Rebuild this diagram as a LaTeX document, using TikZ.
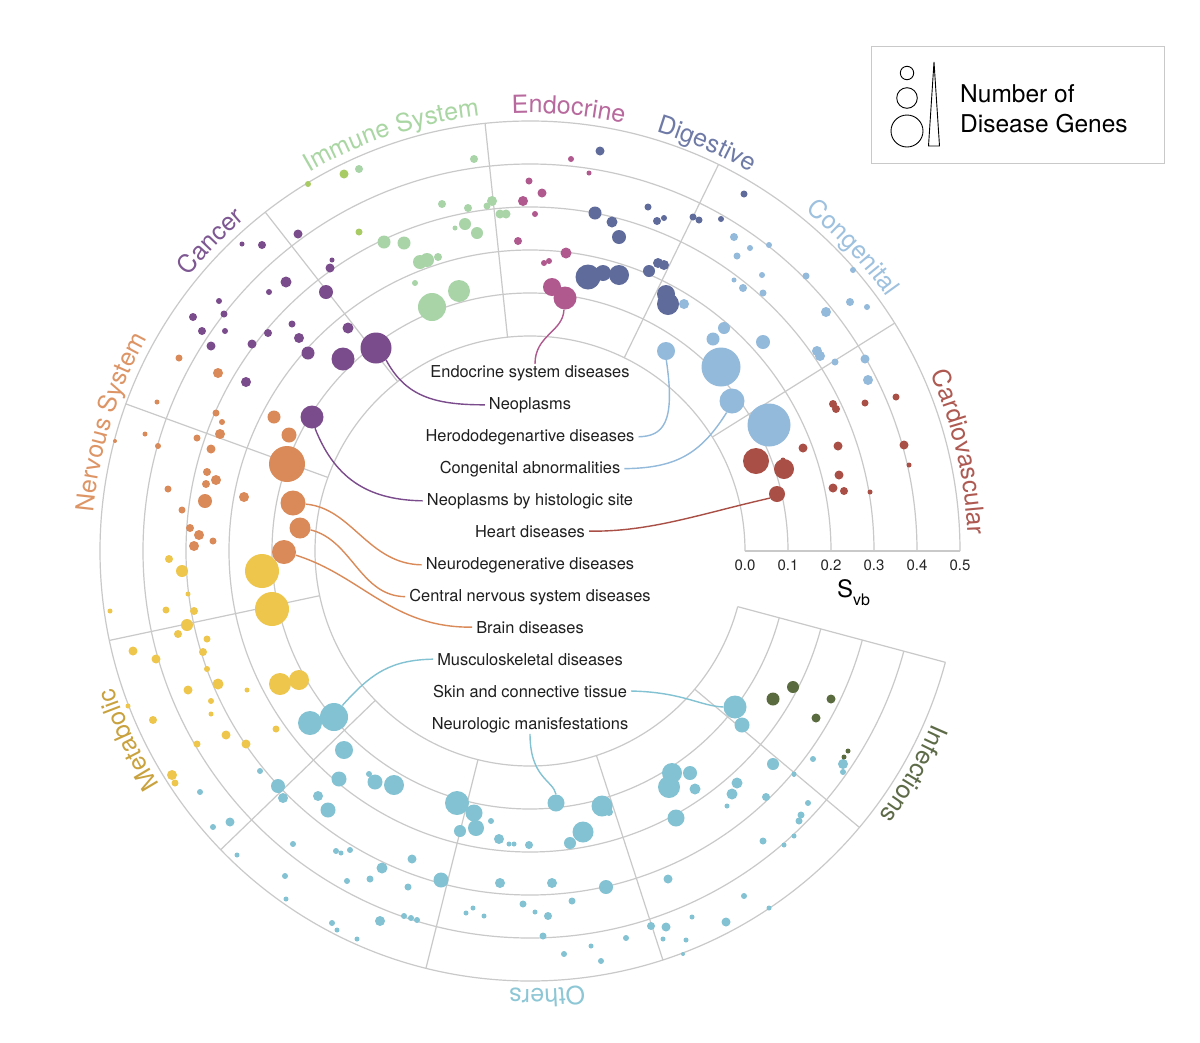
\documentclass[tikz,border=0pt]{standalone}
\usepackage{fontspec}
\setmainfont{TeX Gyre Heros}
\usetikzlibrary{decorations.text}
\definecolor{gridc}{HTML}{C9C9C9}
\definecolor{cardio}{HTML}{A94F45}
\definecolor{congen}{HTML}{93B9DB}
\definecolor{digest}{HTML}{5F6B9B}
\definecolor{endoc}{HTML}{B0598F}
\definecolor{immune}{HTML}{A8D4A8}
\definecolor{immuneB}{HTML}{A9CB63}
\definecolor{cancer}{HTML}{7B4C8C}
\definecolor{nerv}{HTML}{DA8A58}
\definecolor{metab}{HTML}{EEC64C}
\definecolor{others}{HTML}{82C2D2}
\definecolor{infect}{HTML}{5B6B40}
\definecolor{Lcardio}{HTML}{AE5A52}
\definecolor{Lcongen}{HTML}{9DC1DF}
\definecolor{Ldigest}{HTML}{6F7BA6}
\definecolor{Lendo}{HTML}{B8699E}
\definecolor{Limmune}{HTML}{A9D6A3}
\definecolor{Lcancer}{HTML}{7E5892}
\definecolor{Lnerv}{HTML}{DE9566}
\definecolor{Lmetab}{HTML}{C9A23E}
\definecolor{Lothers}{HTML}{8DC7D6}
\definecolor{Linfect}{HTML}{5E6B48}
\newcommand\dotc[4]{\fill[#1] (#2,#3) circle[radius=#4];}
\newcommand\catfont{\fontsize{25}{30}\selectfont}
\newcommand\catlabel[3]{\path[decorate,decoration={text along path,text align=center,text color=#2,text={|\catfont|#3}}] (c) ++(-#1-35:438) arc[start angle=-#1-35,end angle=-#1+35,radius=438];}
\tikzset{
  gridl/.style={draw=gridc,line width=1.2pt},
  conn/.style={line width=1.4pt},
  lbl/.style={font=\fontsize{16.4}{19}\selectfont,inner xsep=4pt,inner ysep=1pt,anchor=base,text=black!88},
  tick/.style={font=\fontsize{15}{18}\selectfont,inner sep=0pt,anchor=base,text=black!85},
  dotnode/.style={circle,inner sep=0pt}}
\begin{document}
\begin{tikzpicture}[x=1pt,y=-1pt]
\fill[white] (0,0) rectangle (1200,1042);
\useasboundingbox (0,0) rectangle (1200,1042);
\coordinate (c) at (530,551);
% grid
\foreach \r in {215,258,301,344,387,430}
  {\draw[gridl] (c) ++(0:\r) arc[start angle=0,end angle=-345,radius=\r];}
\foreach \a in {0,32,64,96,128,160,192,224,256,288,320,345}
  {\draw[gridl] (c) ++(-\a:215) -- ++(-\a:215);}
% Cardiovascular
\foreach \x/\y/\r in {756/461/13,784/469/10,803/448/4.5,833/404/4,836/409/4,865/403/3.5,896/397/3.5,838/446/4.5,904/445/4.5,909/465/2.5,839/475/4.5,833/488/4.5,844/491/4,870/492/2.5,783/460/2.5}
  {\dotc{cardio}{\x}{\y}{\r}}
% Congenital
\foreach \x/\y/\r in {734/237/4,750/248/3,769/245/3,737/256/3.5,762/275/3,734/280/2.5,743/288/4,763/293/3.5,806/276/3.5,853/270/3,850/302/4,867/307/3,826/312/5,817/351/5,820/356/5,835/362/3.5,865/359/4.5,868/380/5,684/304/5,724/328/6,713/339/6.5,763/342/7,721/367/19.5,769/425/21.5}
  {\dotc{congen}{\x}{\y}{\r}}
% Digestive
\foreach \x/\y/\r in {600/151/4.5,744/194/3.5,648/207/3.5,657/221/4,664/218/3,693/217/3.5,699/220/3.5,721/219/3,595/213/6.5,612/222/5.5,619/237/7,588/277/12.5,603/273/8,619/275/10,649/271/6,658/263/5,664/265/5,666/294/9,668/304/11}
  {\dotc{digest}{\x}{\y}{\r}}
% Endocrine
\foreach \x/\y/\r in {571/159/3,589/173/2.5,529/181/3.5,542/193/4.5,523/201/5,535/214/3,518/241/4,566/253/5.5,544/263/3,549/261/3,552/287/9}
  {\dotc{endoc}{\x}{\y}{\r}}
% Immune
\foreach \x/\y/\r in {359/169/4,474/159/4,442/204/4,468/208/4,465/224/6,455/228/2.5,477/233/6,492/201/5,487/206/3.5,500/214/4.5,506/214/4.5,384/242/6.5,404/243/6.5,420/262/7,427/260/7,438/257/4,415/283/3,432/307/14,459/291/11}
  {\dotc{immune}{\x}{\y}{\r}}
\foreach \x/\y/\r in {308/184/3,344/174/4.5,359/232/3.5}
  {\dotc{immuneB}{\x}{\y}{\r}}
% Cancer
\foreach \x/\y/\r in {298/234/4.5,262/245/4,242/244/2.5,332/260/2.5,330/268/4.5,286/282/5.5,269/292/3,326/292/7,219/301/3,193/317/4,224/314/3.5,202/331/4,225/331/3,292/324/3.5,268/333/4,299/338/5,348/328/5.5,211/346/4.5,252/344/4.5,308/353/6.5,343/359/11.5,246/382/5}
  {\dotc{cancer}{\x}{\y}{\r}}
% Nervous system
\foreach \x/\y/\r in {179/358/3.5,218/373/5,157/402/2.5,216/413/3.5,222/422/3,274/417/6.5,289/435/7.5,115/441/2,145/434/2.5,158/446/3,197/438/3.5,220/434/5,211/449/4.5,287/464/18,207/472/4,216/480/5,206/484/4,168/489/3.5,244/497/5,205/501/7,182/510/3.5,190/528/4,199/535/5,194/546/5,213/541/3.5}
  {\dotc{nerv}{\x}{\y}{\r}}
% Metabolic
\foreach \x/\y/\r in {169/559/4,182/571/6,262/571/17,188/594/2.5,110/611/2.5,166/610/3.5,194/611/4,272/609/17,187/625/6,178/634/4,207/639/3.5,133/651/4.5,156/659/4.5,203/652/4,207/669/3,218/684/5.5,188/690/4.5,247/690/2.5,211/701/3,211/714/2.5,153/720/4,128/706/2.5,276/729/3.5,226/735/4.5,197/744/3.5,246/744/4.5,172/775/5,175/783/3.5,280/684/11,299/680/10}
  {\dotc{metab}{\x}{\y}{\r}}
% Others
\foreach \x/\y/\r in {310/723/12,344/750/9,260/771/3,339/779/7.5,369/774/3,375/782/7.5,394/785/10,278/786/7,283/798/5,200/792/3,318/796/5,328/810/7.5,230/822/4.5,213/827/3,293/844/3,237/855/2.5,336/851/3,341/853/2.5,350/850/3,412/859/4.5,382/868/5.5,285/876/3,347/881/3,370/879/3.5,408/887/3.5,441/880/7.5,286/899/2.5,332/923/3,337/930/2.5,357/939/2.5,380/921/5,404/916/3,411/918/3,417/920/3,466/913/2.5,473/908/2.5}
  {\dotc{others}{\x}{\y}{\r}}
\foreach \x/\y/\r in {457/803/12,474/813/8.5,476/828/8,460/831/6,491/821/3,499/839/5,509/844/2.5,514/844/2.5,529/845/4,602/806/10.5,609/812/4,583/832/10.5,570/843/6,672/773/10,669/787/11,690/773/7,695/789/5.5,676/818/8.5,742/725/7.5,773/764/6,737/783/5.5,732/794/5.5,727/806/2.5,766/797/4,763/841/3.5,784/845/2.5,794/774/2.5}
  {\dotc{others}{\x}{\y}{\r}}
\foreach \x/\y/\r in {500/883/5,552/883/5,606/887/7,668/879/4.5,744/896/3,769/908/2.5,484/916/2.5,523/904/3.5,535/912/2.5,548/916/4,572/901/3.5,543/936/3.5,564/954/3,591/946/2.5,601/961/3,626/938/3,651/926/4,666/927/4.5,663/939/2.5,686/940/2.5,683/954/2,692/917/2.5,726/922/4.5}
  {\dotc{others}{\x}{\y}{\r}}
\foreach \x/\y/\r in {843/764/5,843/772/3,813/759/3,794/775/2,808/803/3,801/815/3.5,799/821/3.5,794/836/2.5}
  {\dotc{others}{\x}{\y}{\r}}
% Infections
\foreach \x/\y/\r in {773/699/6.5,793/687/6,831/699/4.5,816/718/4.5,848/751/2.5,844/757/2.5}
  {\dotc{infect}{\x}{\y}{\r}}
% labelled dots
\node[dotnode,fill=endoc,minimum size=23pt] (nEndo) at (565,298) {};
\node[dotnode,fill=cancer,minimum size=31pt] (nNeo) at (376,348) {};
\node[dotnode,fill=congen,minimum size=18pt] (nHero) at (666,351) {};
\node[dotnode,fill=congen,minimum size=25pt] (nCong) at (732,401) {};
\node[dotnode,fill=cancer,minimum size=23pt] (nNeoH) at (312,417) {};
\node[dotnode,fill=cardio,minimum size=16pt] (nHeart) at (777,494) {};
\node[dotnode,fill=nerv,minimum size=25pt] (nNeuro) at (293,503) {};
\node[dotnode,fill=nerv,minimum size=21pt] (nCNS) at (300,528) {};
\node[dotnode,fill=nerv,minimum size=24pt] (nBrain) at (284,552) {};
\node[dotnode,fill=others,minimum size=28pt] (nMusc) at (334,717) {};
\node[dotnode,fill=others,minimum size=23pt] (nSkin) at (735,707) {};
\node[dotnode,fill=others,minimum size=17pt] (nNeurol) at (556,803) {};
% inner labels
\node[lbl] (lEndo) at (530,377) {Endocrine system diseases};
\node[lbl] (lNeo) at (530,409) {Neoplasms};
\node[lbl] (lHero) at (530,441) {Herododegenartive diseases};
\node[lbl] (lCong) at (530,473) {Congenital abnormalities};
\node[lbl] (lNeoH) at (530,505) {Neoplasms by histologic site};
\node[lbl] (lHeart) at (530,537) {Heart diseases};
\node[lbl] (lNeuro) at (530,569) {Neurodegenerative diseases};
\node[lbl] (lCNS) at (530,601) {Central nervous system diseases};
\node[lbl] (lBrain) at (530,633) {Brain diseases};
\node[lbl] (lMusc) at (530,665) {Musculoskeletal diseases};
\node[lbl] (lSkin) at (530,697) {Skin and connective tissue};
\node[lbl] (lNeurol) at (530,729) {Neurologic manisfestations};
% connectors
\draw[conn,draw=endoc] (nEndo.-95) .. controls (563,332) and (535,335) .. ([xshift=5pt]lEndo.north);
\draw[conn,draw=cancer] (nNeo.-50) .. controls (405,395) and (432,405) .. (lNeo.west);
\draw[conn,draw=congen] (nHero.-88) .. controls (676,425) and (662,436) .. (lHero.east);
\draw[conn,draw=congen] (nCong.-115) .. controls (700,455) and (675,468) .. (lCong.east);
\draw[conn,draw=cancer] (nNeoH.-75) .. controls (336,482) and (372,500) .. (lNeoH.west);
\draw[conn,draw=cardio] (nHeart.-150) .. controls (700,514) and (650,532) .. (lHeart.east);
\draw[conn,draw=nerv] (nNeuro.-5) .. controls (352,508) and (368,564) .. (lNeuro.west);
\draw[conn,draw=nerv] (nCNS.-10) .. controls (352,540) and (360,596) .. (lCNS.west);
\draw[conn,draw=nerv] (nBrain.-15) .. controls (362,576) and (392,628) .. (lBrain.west);
\draw[conn,draw=others] (nMusc.54) .. controls (372,672) and (392,660) .. (lMusc.west);
\draw[conn,draw=others] (lSkin.east) .. controls (682,692) and (700,706) .. (nSkin.180);
\draw[conn,draw=others] (lNeurol.south) .. controls (530,778) and (553,780) .. (nNeurol.90);
% category labels
\catlabel{108.4}{Limmune}{Immune System}
\catlabel{85}{Lendo}{Endocrine}
\catlabel{66.5}{Ldigest}{Digestive}
\catlabel{43.2}{Lcongen}{Congenital}
\catlabel{13}{Lcardio}{Cardiovascular}
\catlabel{135.9}{Lcancer}{Cancer}
\catlabel{162.9}{Lnerv}{Nervous System}
\catlabel{205.2}{Lmetab}{Metabolic}
\catlabel{272.2}{Lothers}{Others}
\catlabel{329.8}{Linfect}{Infections}
% axis
\node[tick] (t0) at (745,570) {0.0};
\node[tick] (t1) at (788,570) {0.1};
\node[tick] (t2) at (831,570) {0.2};
\node[tick] (t3) at (874,570) {0.3};
\node[tick] (t4) at (917,570) {0.4};
\node[tick] (t5) at (960,570) {0.5};
\node[anchor=base west,inner sep=0pt] (svb) at (837,597) {\fontsize{24}{28}\selectfont S\raisebox{-8pt}{\fontsize{16}{18}\selectfont vb}};
% legend
\draw[gridc,line width=1pt] (871,46) rectangle (1164,163);
\node[circle,draw=black,line width=0.9pt,minimum size=13.4pt,inner sep=0pt] (lc1) at (907,73) {};
\node[circle,draw=black,line width=0.9pt,minimum size=20.6pt,inner sep=0pt] (lc2) at (907,98) {};
\node[circle,draw=black,line width=0.9pt,minimum size=32pt,inner sep=0pt] (lc3) at (907,131) {};
\draw[line width=0.9pt] (934,62) -- (939.5,146) -- (928.5,146) -- cycle;
\node[anchor=base west,inner sep=0pt,font=\fontsize{24.5}{29}\selectfont] (lg1) at (960,102) {Number of};
\node[anchor=base west,inner sep=0pt,font=\fontsize{24.5}{29}\selectfont] (lg2) at (960,132) {Disease Genes};
\end{tikzpicture}
\end{document}
